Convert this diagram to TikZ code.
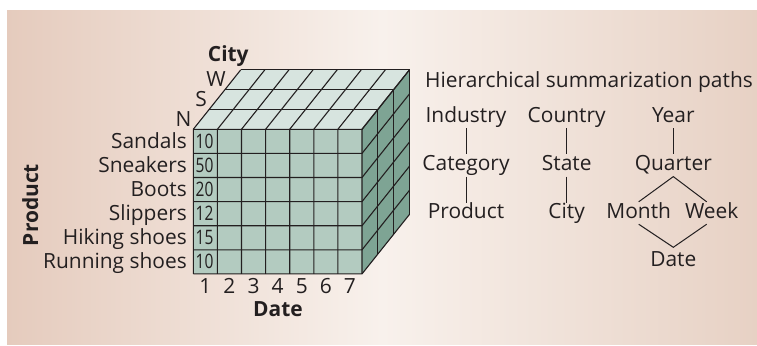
\documentclass[tikz,border=0pt]{standalone}
\usepackage{fontspec}
\setmainfont{Open Sans}
\newfontfamily\numfont[FakeStretch=0.78]{Open Sans}
\usetikzlibrary{positioning}
\definecolor{ink}{HTML}{231F20}
\definecolor{frontface}{HTML}{B3CBC0}
\definecolor{topface}{HTML}{D7E4DF}
\definecolor{sideface}{HTML}{7EA494}
\definecolor{bgleft}{HTML}{E5CBBD}
\definecolor{bgmid}{HTML}{F8F1EC}
\definecolor{bgright}{HTML}{E7D1C4}
\tikzset{
  every node/.style={text=ink, inner sep=0pt, font=\fontsize{21}{24}\selectfont},
  cube/.style={draw=ink, line width=1.1bp},
  rowlabel/.style={anchor=base east},
  cellnum/.style={anchor=base west, font=\numfont\fontsize{20}{24}\selectfont},
  colnum/.style={anchor=base},
  axis/.style={anchor=base, font=\fontsize{21}{24}\selectfont\bfseries},
  level/.style={text height=14bp, text depth=4bp, inner ysep=2bp},
  path/.style={draw=ink, line width=1bp},
}

\begin{document}
\begin{tikzpicture}[x=1bp, y=-1bp, node distance=26bp]
  \useasboundingbox (0,0) rectangle (757,345);
  % background
  \shade[left color=bgleft, right color=bgright, middle color=bgmid] (7,10) rectangle (757,344);

  % cube faces
  \fill[frontface] (193.3,129.3) rectangle (362,273.9);
  \fill[topface] (193.3,129.3) -- (362,129.3) -- (409.4,69.9) -- (240.7,69.9) -- cycle;
  \fill[sideface] (362,129.3) -- (409.4,69.9) -- (409.4,214.5) -- (362,273.9) -- cycle;

  % cube lines
  \foreach \i in {0,...,7} {
    \draw[cube] (193.3+\i*24.1,273.9) -- ++(0,-144.6) -- ++(47.4,-59.4);
  }
  \foreach \j in {0,...,6} {
    \draw[cube] (193.3,129.3+\j*24.1) -- ++(168.7,0) -- ++(47.4,-59.4);
  }
  \foreach \k in {1,2,3} {
    \draw[cube] (193.3+\k*15.8,129.3-\k*19.8) -- ++(168.7,0) -- ++(0,144.6);
  }

  % axes
  \node[axis] (city) at (228.3,61.7) {City};
  \node[axis] (date) at (278,316) {Date};
  \node[axis, rotate=90] (product) at (38,205) {Product};

  \node[rowlabel] (west) at (226,86) {W};
  \node[rowlabel] (south) at (207,106) {S};
  \node[rowlabel] (north) at (191.7,126) {N};

  \foreach \name [count=\r from 0] in {Sandals,Sneakers,Boots,Slippers,Hiking shoes,Running shoes} {
    \node[rowlabel] (row\r) at (187,148.3+\r*24.1) {\name};
  }
  \foreach \v [count=\r from 0] in {10,50,20,12,15,10} {
    \node[cellnum] (cell\r) at (195.5,148.3+\r*24.1) {\v};
  }
  \foreach \d in {1,...,7} {
    \node[colnum] (day\d) at (181.25+\d*24.1,293.3) {\d};
  }

  % summarization paths
  \node[anchor=base west] (title) at (425,87.3) {Hierarchical summarization paths};

  \node[level] (industry) at (466,117) {Industry};
  \node[level, below=of industry] (category) {Category};
  \node[level, below=of category] (prodlevel) {Product};

  \node[level] (country) at (566.7,117) {Country};
  \node[level, below=of country] (state) {State};
  \node[level, below=of state] (citylevel) {City};

  \node[level] (year) at (673.3,117) {Year};
  \node[level, below=of year] (quarter) {Quarter};
  \node[level] (month) at (638.7,213) {Month};
  \node[level] (week) at (711.7,213) {Week};
  \node[level] (datelevel) at (673.3,261.5) {Date};

  \draw[path] (industry) -- (category) -- (prodlevel);
  \draw[path] (country) -- (state) -- (citylevel);
  \draw[path] (year) -- (quarter);
  \draw[path] (month.north) -- (quarter.south) -- ([xshift=-5bp]week.north);
  \draw[path] (month.south) -- ([yshift=3bp]datelevel.north) -- ([xshift=-5bp]week.south);
\end{tikzpicture}
\end{document}
